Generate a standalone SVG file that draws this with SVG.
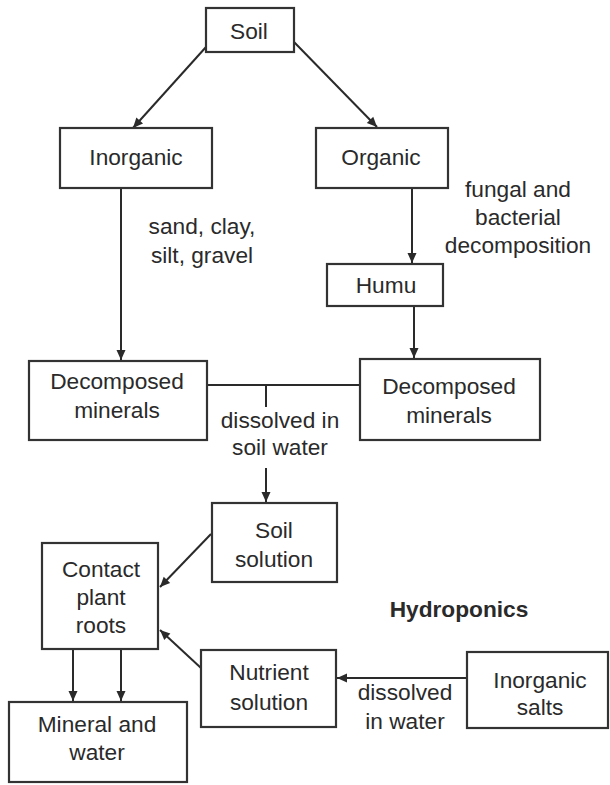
<svg xmlns="http://www.w3.org/2000/svg" width="610" height="785" viewBox="0 0 610 785">
<defs>
<style>
.box{fill:#fff;stroke:#333;stroke-width:2.2}
.t{font-family:"Liberation Sans",Arial,sans-serif;font-size:22.7px;fill:#2a2a2a;text-anchor:middle}
.b{font-weight:bold}
.c{stroke:#2a2a2a;stroke-width:2;fill:none}
.a{marker-end:url(#ah)}
</style>
<marker id="ah" markerUnits="userSpaceOnUse" markerWidth="12" markerHeight="12" viewBox="0 0 12 12" refX="11" refY="6" orient="auto">
<path d="M1,1.5 L11,6 L1,10.5 Z" fill="#2a2a2a"/>
</marker>
</defs>
<rect width="610" height="785" fill="#fff"/>
<g id="connectors">
<line class="c a" x1="206" y1="47" x2="133" y2="128"/>
<line class="c a" x1="294" y1="42" x2="377" y2="127"/>
<line class="c a" x1="121" y1="189" x2="121" y2="360"/>
<line class="c a" x1="412" y1="189" x2="412" y2="263"/>
<line class="c a" x1="414" y1="307" x2="414" y2="358"/>
<line class="c" x1="208" y1="385" x2="360" y2="385"/>
<line class="c" x1="266" y1="385" x2="266" y2="407"/>
<line class="c a" x1="266" y1="468" x2="266" y2="502"/>
<line class="c a" x1="211" y1="534" x2="160" y2="587"/>
<line class="c a" x1="201" y1="668" x2="160" y2="630"/>
<line class="c a" x1="73" y1="650" x2="73" y2="701"/>
<line class="c a" x1="121" y1="650" x2="121" y2="701"/>
<line class="c a" x1="467" y1="678" x2="337" y2="678"/>
</g>
<g id="soil"><rect class="box" x="206" y="8" width="88" height="44"/><text class="t" x="249" y="39">Soil</text></g>
<g id="inorganic"><rect class="box" x="60" y="128" width="152" height="60"/><text class="t" x="136" y="165">Inorganic</text></g>
<g id="organic"><rect class="box" x="316" y="128" width="132" height="60"/><text class="t" x="381" y="165">Organic</text></g>
<g id="humu"><rect class="box" x="327" y="264" width="116" height="42"/><text class="t" x="386" y="293">Humu</text></g>
<g id="decomposed-left"><rect class="box" x="29" y="361" width="178" height="79"/><text class="t" x="117" y="389">Decomposed</text><text class="t" x="117" y="418">minerals</text></g>
<g id="decomposed-right"><rect class="box" x="360" y="359" width="180" height="81"/><text class="t" x="449" y="394">Decomposed</text><text class="t" x="449" y="423">minerals</text></g>
<g id="soil-solution"><rect class="box" x="212" y="503" width="125" height="79"/><text class="t" x="274" y="538">Soil</text><text class="t" x="274" y="567">solution</text></g>
<g id="contact"><rect class="box" x="42" y="543" width="116" height="106"/><text class="t" x="101" y="577">Contact</text><text class="t" x="101" y="605">plant</text><text class="t" x="101" y="633">roots</text></g>
<g id="mineral-water"><rect class="box" x="9" y="702" width="178" height="80"/><text class="t" x="97" y="732">Mineral and</text><text class="t" x="97" y="760">water</text></g>
<g id="nutrient"><rect class="box" x="201" y="650" width="135" height="77"/><text class="t" x="269" y="680">Nutrient</text><text class="t" x="269" y="710">solution</text></g>
<g id="inorganic-salts"><rect class="box" x="467" y="652" width="141" height="76"/><text class="t" x="540" y="688">Inorganic</text><text class="t" x="540" y="715">salts</text></g>
<g id="labels">
<text class="t" x="202" y="234">sand, clay,</text>
<text class="t" x="202" y="263">silt, gravel</text>
<text class="t" x="518" y="197">fungal and</text>
<text class="t" x="518" y="225">bacterial</text>
<text class="t" x="518" y="253">decomposition</text>
<text class="t" x="280" y="428">dissolved in</text>
<text class="t" x="280" y="455">soil water</text>
<text class="t b" x="459" y="617">Hydroponics</text>
<text class="t" x="405" y="700">dissolved</text>
<text class="t" x="405" y="729">in water</text>
</g>
</svg>
